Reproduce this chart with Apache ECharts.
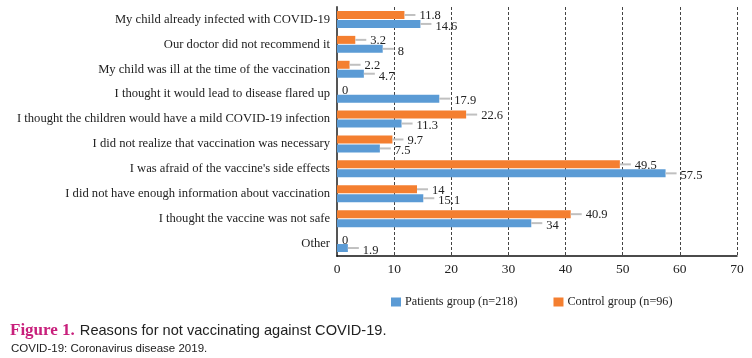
<!DOCTYPE html>
<html><head><meta charset="utf-8">
<script src="https://cdn.jsdelivr.net/npm/echarts@6/dist/echarts.min.js"></script>
<style>html,body{margin:0;padding:0;background:#fff}#c{width:752px;height:358px}</style>
</head><body><div id="c"></div>
<script>
const categories = [
  "My child already infected with COVID-19",
  "Our doctor did not recommend it",
  "My child was ill at the time of the vaccination",
  "I thought it would lead to disease flared up",
  "I thought the children would have a mild COVID-19 infection",
  "I did not realize that vaccination was necessary",
  "I was afraid of the vaccine's side effects",
  "I did not have enough information about vaccination",
  "I thought the vaccine was not safe",
  "Other"
];
const patients = [14.6, 8, 4.7, 17.9, 11.3, 7.5, 57.5, 15.1, 34, 1.9];
const control = [11.8, 3.2, 2.2, 0, 22.6, 9.7, 49.5, 14, 40.9, 0];
const xTicks = [0, 10, 20, 30, 40, 50, 60, 70];
const seriesNames = ["Patients group (n=218)", "Control group (n=96)"];

const serif = "'Liberation Serif', serif";
const sans = "'Liberation Sans', sans-serif";
function lbl(shift) {
  return {
    show: true, position: 'right', distance: 0,
    formatter: p => p.value === 0 ? '{z|0}' : '{ln|}{v|' + p.value + '}',
    rich: {
      ln: {width: 11, height: 2, backgroundColor: '#c0c0c0'},
      v: {fontFamily: serif, fontSize: 12.5, color: '#222', padding: [shift, 0, 0, 4]},
      z: {fontFamily: serif, fontSize: 12.5, color: '#222', padding: [3, 0, 0, 5]}
    }
  };
}
const chart = echarts.init(document.getElementById('c'));
chart.setOption({
  animation: false,
  title: [{
    text: '{a|Figure 1.} {b|Reasons for not vaccinating against COVID-19.}',
    left: 5, top: 317,
    textStyle: {rich: {
      a: {fontFamily: serif, fontWeight: 'bold', fontSize: 17, color: '#c8207c'},
      b: {fontFamily: sans, fontWeight: 'normal', fontSize: 14.6, color: '#222'}
    }}
  }, {
    text: 'COVID-19: Coronavirus disease 2019.',
    left: 6, top: 338,
    textStyle: {fontFamily: sans, fontSize: 11.5, fontWeight: 'normal', color: '#222'}
  }],
  legend: {
    top: 291, left: 386, itemWidth: 10, itemHeight: 9, itemGap: 36,
    icon: 'rect',
    textStyle: {fontFamily: serif, fontSize: 12.2, color: '#222', padding: [0, 0, 0, -1]},
    data: seriesNames
  },
  grid: {left: 337, right: 15, top: 7, bottom: 102, containLabel: false},
  xAxis: {
    type: 'value', min: xTicks[0], max: xTicks[xTicks.length - 1], interval: 10,
    axisLine: {show: true, lineStyle: {color: '#111', width: 1.5}},
    axisTick: {show: false},
    axisLabel: {fontFamily: serif, fontSize: 13.5, color: '#222', margin: 6},
    splitLine: {show: true, lineStyle: {color: '#444', type: [3, 2], width: 1}}
  },
  yAxis: {
    type: 'category', data: categories, inverse: true,
    axisLine: {lineStyle: {color: '#555', width: 2}},
    axisTick: {show: false},
    axisLabel: {fontFamily: serif, fontSize: 12.6, color: '#222', margin: 7, padding: [3, 0, 0, 0]}
  },
  series: [
    {name: seriesNames[1], type: 'bar', data: control, barWidth: 8, barGap: '12%',
     itemStyle: {color: '#f47f30'}, label: lbl(2)},
    {name: seriesNames[0], type: 'bar', data: patients, barWidth: 8, barGap: '12%',
     itemStyle: {color: '#5b9bd5'}, label: lbl(5)}
  ]
});
</script></body></html>
